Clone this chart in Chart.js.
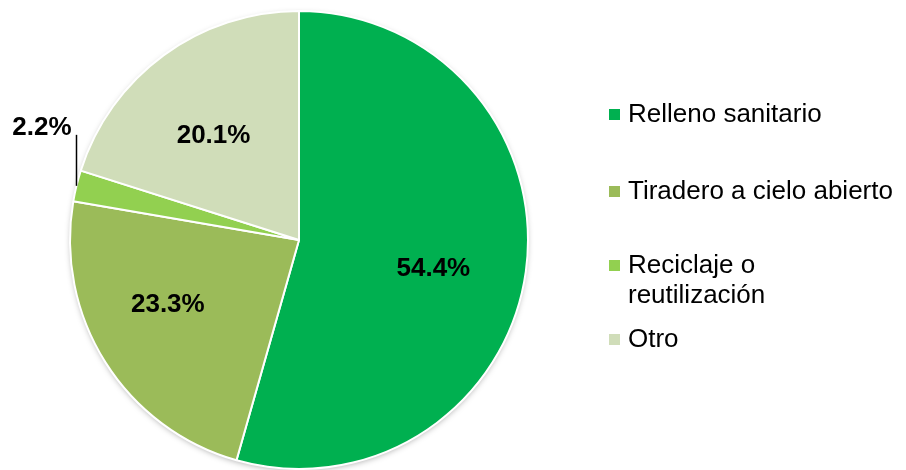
<!DOCTYPE html>
<html>
<head>
<meta charset="utf-8">
<script src="https://cdn.jsdelivr.net/npm/chart.js@4/dist/chart.umd.min.js"></script>
<style>
    body { margin: 0; background: #fff; }
    #wrap { position: relative; width: 906px; height: 470px; }
    #legend { position: absolute; left: 609px; top: 0; font-family: "Liberation Sans", Arial, sans-serif; font-size: 26px; color: #000; }
    .item { position: absolute; left: 0; white-space: nowrap; line-height: 30px; }
    .box { position: absolute; left: 0; width: 11px; height: 11px; }
    .txt { position: absolute; left: 19px; top: 0; }
</style>
</head>
<body>
<div id="wrap">
    <canvas id="pie"></canvas>
    <div id="legend"></div>
</div>
<script>
const categories = ["Relleno sanitario", "Tiradero a cielo abierto", "Reciclaje o\nreutilización", "Otro"];
const shares = [54.4, 23.3, 2.2, 20.1];
const colors = ["#00B050", "#9BBB59", "#92D050", "#D0DDB9"];

// legend rows (top of each row, px)
const legendTops = [98, 175, 249, 323];
const legend = document.getElementById("legend");
categories.forEach((name, i) => {
    const row = document.createElement("div");
    row.className = "item";
    row.style.top = legendTops[i] + "px";
    row.innerHTML = '<div class="box" style="top:11px;background:' + colors[i] + '"></div>' +
        '<div class="txt">' + name.replace("\n", "<br>") + '</div>';
    legend.appendChild(row);
});

// soft shadow under the whole pie
const pieShadow = {
    id: "pieShadow",
    beforeDatasetsDraw(chart) {
        const arc = chart.getDatasetMeta(0).data[0];
        if (!arc) return;
        const ctx = chart.ctx;
        ctx.save();
        ctx.shadowColor = "rgba(0,0,0,0.35)";
        ctx.shadowBlur = 6;
        ctx.shadowOffsetY = 2;
        ctx.fillStyle = "#fff";
        ctx.beginPath();
        ctx.arc(arc.x, arc.y, arc.outerRadius - 1, 0, Math.PI * 2);
        ctx.fill();
        ctx.restore();
    }
};

// percentage labels; small slices get an outside label with a leader line
const pieLabels = {
    id: "pieLabels",
    afterDatasetsDraw(chart, args, opts) {
        const ctx = chart.ctx;
        const meta = chart.getDatasetMeta(0);
        ctx.save();
        ctx.font = "bold 26px 'Liberation Sans', Arial, sans-serif";
        ctx.fillStyle = "#000";
        ctx.textBaseline = "middle";
        meta.data.forEach((arc, i) => {
            const v = shares[i];
            const mid = (arc.startAngle + arc.endAngle) / 2;
            const text = v.toFixed(1) + "%";
            if (v < 5) {
                const ex = arc.x + Math.cos(mid) * arc.outerRadius;
                const ey = arc.y + Math.sin(mid) * arc.outerRadius;
                ctx.strokeStyle = "#000";
                ctx.lineWidth = 1.5;
                ctx.beginPath();
                ctx.moveTo(ex, ey);
                ctx.lineTo(ex, ey - 51);
                ctx.stroke();
                ctx.textAlign = "right";
                ctx.fillText(text, ex - 5, ey - 58);
            } else {
                const r = arc.outerRadius * opts.radius;
                const nudge = opts.nudge[i] || [0, 0];
                ctx.textAlign = "center";
                ctx.fillText(text, arc.x + Math.cos(mid) * r + nudge[0], arc.y + Math.sin(mid) * r + nudge[1]);
            }
        });
        ctx.restore();
    }
};

new Chart(document.getElementById("pie"), {
    type: "pie",
    data: {
        labels: categories,
        datasets: [{
            data: shares,
            backgroundColor: colors,
            borderColor: "#fff",
            borderWidth: 2
        }]
    },
    options: {
        responsive: true,
        maintainAspectRatio: false,
        animation: false,
        radius: 229,
        layout: { padding: { left: 0, right: 308, top: 10, bottom: 0 } },
        plugins: {
            legend: { display: false },
            tooltip: { enabled: false },
            pieLabels: { radius: 0.61, nudge: [[-4, 10], [-13, -10], [0, 0], [-3, 9]] }
        }
    },
    plugins: [pieShadow, pieLabels]
});
</script>
</body>
</html>
